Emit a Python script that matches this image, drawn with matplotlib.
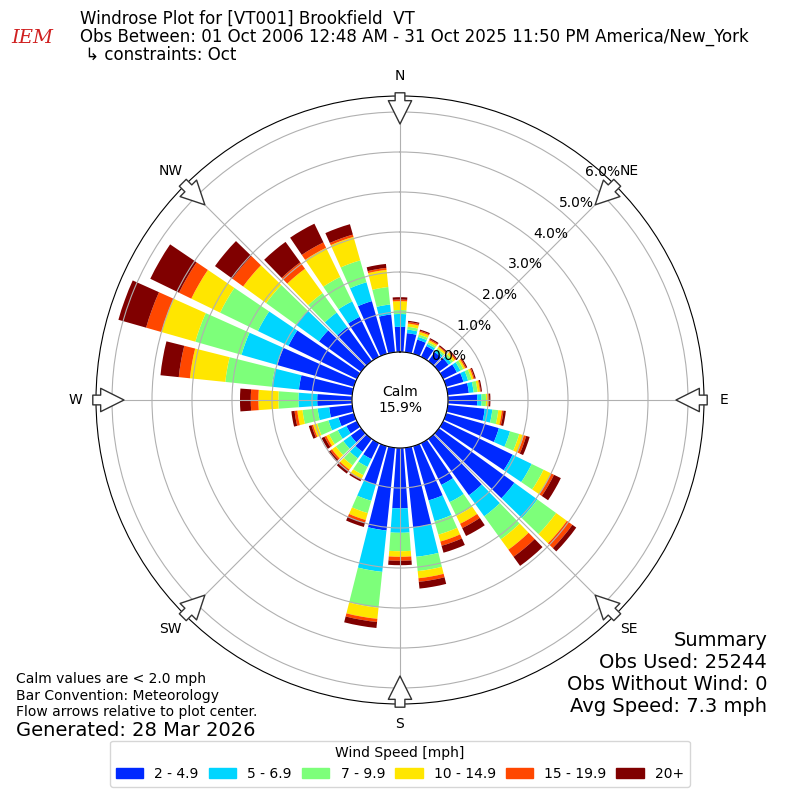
import numpy as np
import matplotlib
matplotlib.use('Agg')
import matplotlib.pyplot as plt
from matplotlib.patches import Rectangle

# wind directions (deg, sector centres) and speed bins
directions = np.arange(0, 360, 10)
speed_labels = ['2 - 4.9', '5 - 6.9', '7 - 9.9', '10 - 14.9', '15 - 19.9', '20+']

# percent of observations per direction, one list per speed bin
pct_2_5 = [0.63, 0.48, 0.37, 0.30, 0.28, 0.30, 0.38, 0.45, 0.53, 0.73, 0.93, 1.37,
           1.93, 2.33, 1.74, 1.16, 1.41, 2.00, 1.51, 2.08, 1.00, 0.44, 0.40, 0.32,
           0.29, 0.40, 0.58, 0.87, 1.34, 1.99, 1.90, 1.30, 1.05, 1.11, 1.37, 0.95]
pct_5_7 = [0.32, 0.09, 0.07, 0.06, 0.06, 0.08, 0.10, 0.12, 0.12, 0.11, 0.19, 0.29,
           0.53, 0.71, 0.65, 0.48, 0.54, 0.74, 0.61, 1.04, 0.42, 0.22, 0.20, 0.23,
           0.24, 0.26, 0.29, 0.47, 0.68, 0.93, 0.85, 0.71, 0.45, 0.43, 0.49, 0.25]
pct_7_10 = [0.10, 0.07, 0.06, 0.05, 0.05, 0.06, 0.08, 0.09, 0.10, 0.11, 0.15, 0.24,
            0.33, 0.58, 0.71, 0.38, 0.35, 0.36, 0.46, 0.90, 0.32, 0.23, 0.22, 0.23,
            0.24, 0.29, 0.38, 0.50, 1.17, 1.20, 1.05, 0.92, 0.60, 0.68, 0.57, 0.44]
pct_10_15 = [0.22, 0.08, 0.07, 0.05, 0.05, 0.06, 0.05, 0.05, 0.06, 0.05, 0.09, 0.12,
             0.21, 0.33, 0.32, 0.22, 0.18, 0.18, 0.14, 0.28, 0.18, 0.11, 0.13, 0.12,
             0.08, 0.11, 0.13, 0.50, 0.89, 0.88, 0.80, 0.71, 0.75, 0.81, 0.61, 0.43]
pct_15_20 = [0.04, 0.04, 0.03, 0.03, 0.02, 0.03, 0.03, 0.03, 0.02, 0.03, 0.04, 0.06,
             0.08, 0.17, 0.22, 0.12, 0.11, 0.09, 0.10, 0.08, 0.07, 0.02, 0.05, 0.05,
             0.05, 0.04, 0.07, 0.19, 0.28, 0.40, 0.34, 0.33, 0.20, 0.15, 0.06, 0.05]
pct_20 = [0.06, 0.03, 0.03, 0.03, 0.03, 0.03, 0.03, 0.03, 0.03, 0.03, 0.06, 0.09,
          0.19, 0.12, 0.28, 0.22, 0.18, 0.17, 0.11, 0.15, 0.11, 0.04, 0.07, 0.06,
          0.08, 0.07, 0.08, 0.27, 0.46, 0.72, 0.80, 0.54, 0.63, 0.52, 0.27, 0.10]

calm_pct = 15.9
rticks = [0, 1, 2, 3, 4, 5, 6]
compass = ['N', 'NE', 'E', 'SE', 'S', 'SW', 'W', 'NW']

bins = [pct_2_5, pct_5_7, pct_7_10, pct_10_15, pct_15_20, pct_20]
colors = plt.cm.jet(np.linspace(0, 1, 7)[1:])

fig = plt.figure(figsize=(8, 8), dpi=100)
ax = fig.add_axes([0.12, 0.12, 0.76, 0.76], projection='polar')
ax.set_theta_zero_location('N')
ax.set_theta_direction(-1)

theta = np.deg2rad(directions)
bottom = np.zeros(len(directions))
for vals, color, label in zip(bins, colors, speed_labels):
    vals = np.array(vals)
    ax.bar(theta, vals, width=np.deg2rad(8.2), bottom=bottom, color=color,
           label=label, linewidth=0)
    bottom += vals

ax.set_rorigin(-1.2)
ax.set_ylim(0, 6.4)
ax.set_yticks(rticks)
ax.set_yticklabels([f'{v:.1f}%' for v in rticks], fontsize=10)
ax.set_rlabel_position(40)
ax.set_xticks(np.deg2rad(np.arange(0, 360, 45)))
ax.set_xticklabels(compass, fontsize=10)
ax.tick_params(axis='x', pad=4)
ax.grid(True, color='#b0b0b0', linewidth=0.8)

# flow arrows at the compass points, pointing to the centre
for d in np.arange(0, 360, 45):
    ax.annotate('', xy=(np.deg2rad(d), 5.7), xytext=(np.deg2rad(d), 6.48),
                xycoords='data', annotation_clip=False,
                arrowprops=dict(arrowstyle='simple,head_length=1.2,head_width=1.2,tail_width=0.5',
                                mutation_scale=14, fc='white', ec='#333333', lw=1,
                                shrinkA=0, shrinkB=0))

ax.text(0.5, 0.5, f'Calm\n{calm_pct:.1f}%', transform=ax.transAxes,
        ha='center', va='center', fontsize=10)

fig.text(0.1, 0.976, 'Windrose Plot for [VT001] Brookfield  VT', fontsize=12, va='center')
fig.text(0.1, 0.954, 'Obs Between: 01 Oct 2006 12:48 AM - 31 Oct 2025 11:50 PM America/New_York',
         fontsize=12, va='center')
fig.text(0.1, 0.931, ' \u21b3 constraints: Oct', fontsize=12, va='center')
fig.text(0.04, 0.952, 'IEM', color='#d02020', fontsize=14, style='italic',
         family='DejaVu Serif', ha='center', va='center')

fig.text(0.02, 0.151, 'Calm values are < 2.0 mph', fontsize=10, va='center')
fig.text(0.02, 0.130, 'Bar Convention: Meteorology', fontsize=10, va='center')
fig.text(0.02, 0.110, 'Flow arrows relative to plot center.', fontsize=10, va='center')
fig.text(0.02, 0.0875, 'Generated: 28 Mar 2026', fontsize=14, va='center')

fig.text(0.959, 0.200, 'Summary', fontsize=14, ha='right', va='center')
fig.text(0.959, 0.1725, 'Obs Used: 25244', fontsize=14, ha='right', va='center')
fig.text(0.959, 0.145, 'Obs Without Wind: 0', fontsize=14, ha='right', va='center')
fig.text(0.959, 0.1175, 'Avg Speed: 7.3 mph', fontsize=14, ha='right', va='center')

handles = [Rectangle((0, 0), 1, 1, color=c) for c in colors]
fig.legend(handles, speed_labels, loc='lower center', bbox_to_anchor=(0.5, 0.008),
           ncol=6, title='Wind Speed [mph]', fontsize=10, title_fontsize=10,
           columnspacing=0.7)

fig.savefig('out.png', dpi=100)
